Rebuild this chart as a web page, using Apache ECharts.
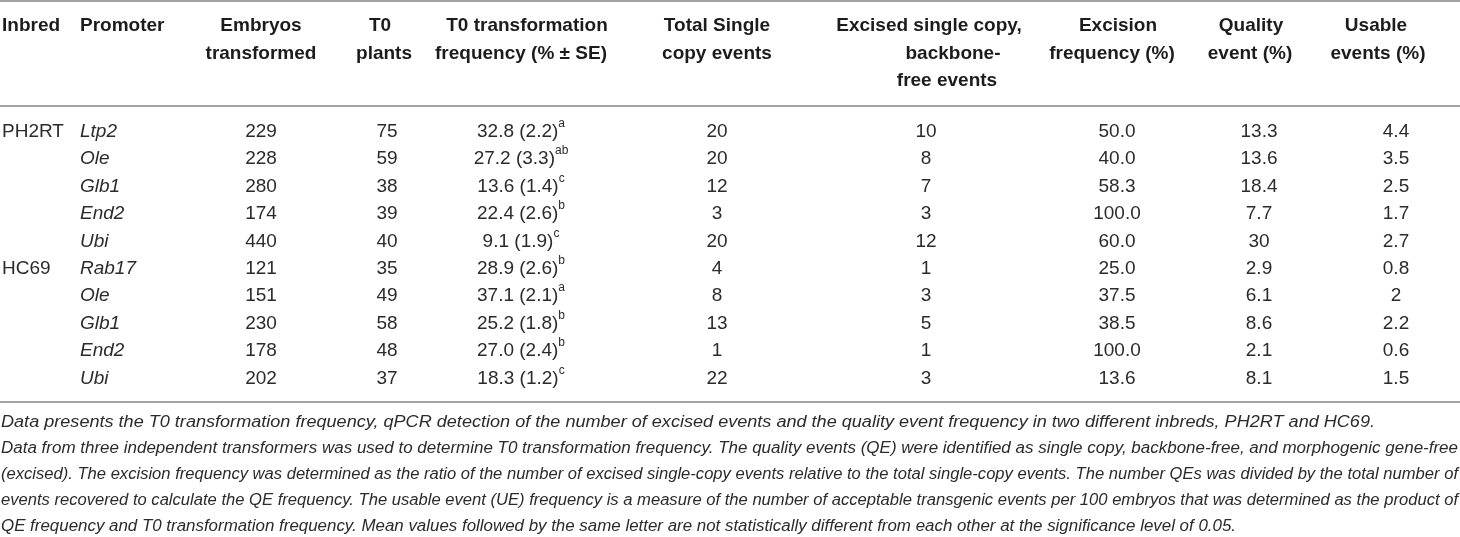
<!DOCTYPE html>
<html>
<head>
<meta charset="utf-8">
<title>T0 transformation and quality event frequency</title>
<script src="https://cdn.jsdelivr.net/npm/echarts@6/dist/echarts.min.js"></script>
<style>
  html, body { margin: 0; padding: 0; background: #fff; }
  #main { width: 1460px; height: 537px; }
</style>
</head>
<body>
<div id="main"></div>
<script>
// table values, one array per column
const inbreds = ['PH2RT', '', '', '', '', 'HC69', '', '', '', '']
const promoters = ['Ltp2', 'Ole', 'Glb1', 'End2', 'Ubi', 'Rab17', 'Ole', 'Glb1', 'End2', 'Ubi']
const embryosTransformed = [229, 228, 280, 174, 440, 121, 151, 230, 178, 202]
const t0Plants = [75, 59, 38, 39, 40, 35, 49, 58, 48, 37]
const t0Freq = ['32.8', '27.2', '13.6', '22.4', '9.1', '28.9', '37.1', '25.2', '27.0', '18.3']
const t0FreqSE = ['2.2', '3.3', '1.4', '2.6', '1.9', '2.6', '2.1', '1.8', '2.4', '1.2']
const t0FreqLetters = ['a', 'ab', 'c', 'b', 'c', 'b', 'a', 'b', 'b', 'c']
const singleCopyEvents = [20, 20, 12, 3, 20, 4, 8, 13, 1, 22]
const excisedEvents = [10, 8, 7, 3, 12, 1, 3, 5, 1, 3]
const excisionFreq = ['50.0', '40.0', '58.3', '100.0', '60.0', '25.0', '37.5', '38.5', '100.0', '13.6']
const qualityEvent = ['13.3', '13.6', '18.4', '7.7', '30', '2.9', '6.1', '8.6', '2.1', '8.1']
const usableEvents = ['4.4', '3.5', '2.5', '1.7', '2.7', '0.8', '2', '2.2', '0.6', '1.5']

const headers = [
    ['Inbred'],
    ['Promoter'],
    ['Embryos', 'transformed'],
    ['T0', 'plants'],
    ['T0 transformation', 'frequency (% \u00b1 SE)'],
    ['Total Single', 'copy events'],
    ['Excised single copy,', 'backbone-', 'free events'],
    ['Excision', 'frequency (%)'],
    ['Quality', 'event (%)'],
    ['Usable', 'events (%)']
]

const footnotes = [
    'Data presents the T0 transformation frequency, qPCR detection of the number of excised events and the quality event frequency in two different inbreds, PH2RT and HC69.',
    'Data from three independent transformers was used to determine T0 transformation frequency. The quality events (QE) were identified as single copy, backbone-free, and morphogenic gene-free',
    '(excised). The excision frequency was determined as the ratio of the number of excised single-copy events relative to the total single-copy events. The number QEs was divided by the total number of',
    'events recovered to calculate the QE frequency. The usable event (UE) frequency is a measure of the number of acceptable transgenic events per 100 embryos that was determined as the product of',
    'QE frequency and T0 transformation frequency. Mean values followed by the same letter are not statistically different from each other at the significance level of 0.05.'
]

// layout (pixels)
const W = 1460, H = 537
const FONT = '"Liberation Sans", Arial, Helvetica, sans-serif'
const headerLineY = [26, 53.5, 81]
const headerX = [[2], [80], [261, 261], [380, 384], [527, 521], [717, 717],
    [929, 953, 947], [1118, 1112], [1251, 1250], [1376, 1378]]
const colX = [2, 80, 261, 387, 521, 717, 926, 1117, 1259, 1396]
const ruleY = [1, 106, 402]
const footY = [423, 449, 475, 501, 527]
const footWidth = [1374, 1457, 1457, 1457, 1235]
const rowsTop = 117.8, rowsBottom = 392.2

// cells: column index, row index, kind, text
let cells = []
promoters.forEach((p, i) => {
    if (inbreds[i]) cells.push({col: 0, row: i, kind: 'plain', text: inbreds[i]})
    cells.push({col: 1, row: i, kind: 'italic', text: p})
    cells.push({col: 2, row: i, kind: 'plain', text: String(embryosTransformed[i])})
    cells.push({col: 3, row: i, kind: 'plain', text: String(t0Plants[i])})
    cells.push({col: 4, row: i, kind: 'sup',
        text: '{n|' + t0Freq[i] + ' (' + t0FreqSE[i] + ')}{s|' + t0FreqLetters[i] + '}'})
    cells.push({col: 5, row: i, kind: 'plain', text: String(singleCopyEvents[i])})
    cells.push({col: 6, row: i, kind: 'plain', text: String(excisedEvents[i])})
    cells.push({col: 7, row: i, kind: 'plain', text: excisionFreq[i]})
    cells.push({col: 8, row: i, kind: 'plain', text: qualityEvent[i]})
    cells.push({col: 9, row: i, kind: 'plain', text: usableEvents[i]})
})

let graphics = []

// horizontal rules
ruleY.forEach(y => {
    graphics.push({
        type: 'line', silent: true,
        shape: {x1: 0, y1: y, x2: W, y2: y},
        style: {stroke: '#a3a3a3', lineWidth: 2}
    })
})

// header text
headers.forEach((lines, c) => {
    lines.forEach((t, j) => {
        let left = c < 2
        graphics.push({
            type: 'text', silent: true,
            x: headerX[c][j], y: headerLineY[j],
            style: {
                text: t, fill: '#1c1c1c',
                font: 'bold 19px ' + FONT,
                textAlign: left ? 'left' : 'center', align: left ? 'left' : 'center',
                textVerticalAlign: 'middle', verticalAlign: 'middle'
            }
        })
    })
})

// footnotes, stretched to the justified widths
let ctx = document.createElement('canvas').getContext('2d')
const footFont = 'italic 16px ' + FONT
ctx.font = footFont
footnotes.forEach((t, i) => {
    let w = ctx.measureText(t).width
    graphics.push({
        type: 'text', silent: true,
        x: 1, y: footY[i], scaleX: footWidth[i] / w,
        style: {
            text: t, fill: '#2b2b2b', font: footFont,
            textAlign: 'left', align: 'left',
            textVerticalAlign: 'middle', verticalAlign: 'middle'
        }
    })
})

let chart = echarts.init(document.getElementById('main'))
chart.setOption({
    animation: false,
    grid: {left: 0, right: 0, top: rowsTop, bottom: H - rowsBottom},
    xAxis: {type: 'value', min: 0, max: W, show: false},
    yAxis: {
        type: 'category', inverse: true, show: false,
        data: promoters.map((p, i) => i)
    },
    graphic: graphics,
    series: [{
        type: 'custom',
        silent: true,
        clip: false,
        data: cells.map(c => [colX[c.col], c.row]),
        renderItem: function (params, api) {
            let c = cells[params.dataIndex]
            let p = api.coord([api.value(0), api.value(1)])
            let align = c.col < 2 ? 'left' : 'center'
            let style = {
                text: c.text, fill: '#2b2b2b',
                fontFamily: FONT, fontSize: 19,
                fontStyle: c.kind === 'italic' ? 'italic' : 'normal',
                align: align, textAlign: align,
                verticalAlign: 'middle', textVerticalAlign: 'middle'
            }
            if (c.kind === 'sup') {
                style.rich = {
                    n: {fontFamily: FONT, fontSize: 19, lineHeight: 28, fill: '#2b2b2b'},
                    s: {fontFamily: FONT, fontSize: 12, lineHeight: 12, verticalAlign: 'top', fill: '#2b2b2b'}
                }
            }
            return {type: 'text', x: p[0], y: p[1], style: style}
        }
    }]
})
</script>
</body>
</html>
